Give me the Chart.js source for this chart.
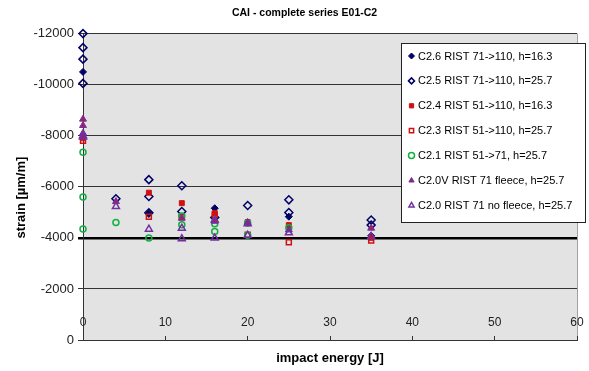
<!DOCTYPE html>
<html>
<head>
<meta charset="utf-8">
<script src="https://cdn.jsdelivr.net/npm/chart.js@4.4.1/dist/chart.umd.min.js"></script>
<style>
  html, body { margin: 0; padding: 0; background: #fff; }
</style>
</head>
<body>
<canvas id="caiChart" width="589" height="371"></canvas>
<script>
// series labels
const seriesNames = [
    'C2.6 RIST 71->110, h=16.3',
    'C2.5 RIST 71->110, h=25.7',
    'C2.4 RIST 51->110, h=16.3',
    'C2.3 RIST 51->110, h=25.7',
    'C2.1 RIST 51->71, h=25.7',
    'C2.0V RIST 71 fleece, h=25.7',
    'C2.0 RIST 71 no fleece, h=25.7'
];

// impact energy [J] / strain [µm/m], per series
const c26X = [0, 8, 16, 25, 35];
const c26Y = [-10500, -4950, -5160, -4830, -4080];

const c25X = [0, 0, 0, 0, 4, 8, 8, 8, 12, 12, 16, 20, 25, 25, 35, 35];
const c25Y = [-12000, -11450, -11000, -10050, -5530, -6280, -5620, -4980, -6040, -5030, -4800, -5270, -5490, -4990, -4700, -4500];

const c24X = [0, 8, 12, 16, 20, 25, 35];
const c24Y = [-7900, -5770, -5360, -4970, -4620, -4500, -4000];

const c23X = [0, 8, 12, 16, 20, 25, 35];
const c23Y = [-7800, -4830, -4820, -4900, -4120, -3830, -3900];

const c21X = [0, 0, 0, 4, 8, 12, 12, 16, 16, 20, 20, 25];
const c21Y = [-7350, -5600, -4350, -4600, -3990, -4860, -4510, -4550, -4250, -4580, -4100, -4400];

const c20vX = [0, 0, 0, 4, 12, 16, 20, 25, 35];
const c20vY = [-8650, -8400, -8100, -5420, -4770, -4650, -4600, -4310, -4380];

const c20X = [0, 0, 4, 8, 12, 12, 16, 16, 20, 20, 25, 35];
const c20Y = [-8000, -7950, -5230, -4340, -4380, -3970, -4700, -3990, -4550, -4100, -4200, -4050];

const navy = '#000066', red = '#d01010', green = '#10b040', purple = '#7030a0';

function pts(xs, ys) {
    return xs.map((x, i) => ({x: x, y: ys[i]}));
}

const styles = [
    {data: pts(c26X, c26Y), pointStyle: 'rectRot', backgroundColor: navy, borderColor: navy, pointRadius: 3.5, pointBorderWidth: 1},
    {data: pts(c25X, c25Y), pointStyle: 'rectRot', backgroundColor: 'rgba(0,0,0,0)', borderColor: navy, pointRadius: 4, pointBorderWidth: 1.5},
    {data: pts(c24X, c24Y), pointStyle: 'rect', backgroundColor: red, borderColor: red, pointRadius: 3.5, pointBorderWidth: 1},
    {data: pts(c23X, c23Y), pointStyle: 'rect', backgroundColor: 'rgba(0,0,0,0)', borderColor: red, pointRadius: 3.5, pointBorderWidth: 1.5},
    {data: pts(c21X, c21Y), pointStyle: 'circle', backgroundColor: 'rgba(0,0,0,0)', borderColor: green, pointRadius: 3, pointBorderWidth: 1.5},
    {data: pts(c20vX, c20vY), pointStyle: 'triangle', backgroundColor: '#a02060', borderColor: purple, pointRadius: 4, pointBorderWidth: 1},
    {data: pts(c20X, c20Y), pointStyle: 'triangle', backgroundColor: 'rgba(0,0,0,0)', borderColor: purple, pointRadius: 4, pointBorderWidth: 1.5}
];

const datasets = styles.map((s, i) => Object.assign({
    label: seriesNames[i],
    showLine: false,
    clip: false,
    order: styles.length - i
}, s));

// grey plot area
const plotBg = {
    id: 'plotBg',
    beforeDraw(chart) {
        const {ctx, chartArea: a} = chart;
        ctx.save();
        ctx.fillStyle = '#e3e3e3';
        ctx.fillRect(a.left, a.top, a.right - a.left, a.bottom - a.top);
        ctx.strokeStyle = '#a0a0a0';
        ctx.lineWidth = 1;
        ctx.beginPath();
        ctx.moveTo(a.right + 0.5, a.top);
        ctx.lineTo(a.right + 0.5, a.bottom);
        ctx.stroke();
        ctx.restore();
    }
};

// boxed legend sitting inside the plot, like the excel one
const boxLegend = {
    id: 'boxLegend',
    afterDatasetsDraw(chart) {
        const ctx = chart.ctx;
        const x0 = 401, y0 = 43, w = 184, h = 179;
        ctx.save();
        ctx.fillStyle = '#fff';
        ctx.fillRect(x0, y0, w, h);
        ctx.strokeStyle = '#222';
        ctx.lineWidth = 1;
        ctx.strokeRect(x0 + 0.5, y0 + 0.5, w, h);
        chart.data.datasets.forEach((ds, i) => {
            const y = y0 + 13 + i * 24.9;
            ctx.fillStyle = ds.backgroundColor;
            ctx.strokeStyle = ds.borderColor;
            ctx.lineWidth = ds.pointBorderWidth;
            Chart.helpers.drawPoint(ctx, {pointStyle: ds.pointStyle, radius: 3, rotation: 0, borderWidth: ds.pointBorderWidth}, 411.5, y);
            ctx.fillStyle = '#000';
            ctx.font = '11px "Liberation Sans", Arial, sans-serif';
            ctx.textAlign = 'left';
            ctx.textBaseline = 'middle';
            ctx.fillText(ds.label, 418, y + 0.5);
        });
        ctx.restore();
    }
};

const ctx = document.getElementById('caiChart').getContext('2d');
new Chart(ctx, {
    type: 'scatter',
    data: {datasets: datasets},
    plugins: [plotBg, boxLegend],
    options: {
        responsive: false,
        animation: false,
        layout: {padding: {left: 0, right: 12, top: 0, bottom: 0}},
        plugins: {
            legend: {display: false},
            tooltip: {enabled: false},
            title: {
                display: true,
                text: '           CAI - complete series E01-C2',
                color: '#000',
                font: {family: '"Liberation Sans", Arial, sans-serif', size: 10.5, weight: 'bold'},
                padding: {top: 7, bottom: 14}
            }
        },
        scales: {
            x: {
                type: 'linear',
                min: 0,
                max: 60,
                ticks: {
                    stepSize: 10,
                    mirror: true,
                    padding: 10,
                    color: '#222',
                    font: {family: '"Liberation Sans", Arial, sans-serif', size: 12}
                },
                grid: {
                    drawOnChartArea: false,
                    drawTicks: true,
                    tickLength: -4,
                    color: '#333'
                },
                border: {color: '#333', width: 1},
                title: {
                    display: true,
                    text: 'impact energy [J]',
                    color: '#000',
                    font: {family: '"Liberation Sans", Arial, sans-serif', size: 13, weight: 'bold'},
                    padding: {top: 0, bottom: 5}
                },
                afterFit: function(scale) {
                    scale.height = 31;
                    scale.paddingLeft = 0;
                    scale.paddingRight = 0;
                }
            },
            y: {
                type: 'linear',
                min: -12000,
                max: 0,
                reverse: true,
                ticks: {
                    stepSize: 2000,
                    padding: 4,
                    color: '#222',
                    font: {family: '"Liberation Sans", Arial, sans-serif', size: 13},
                    callback: v => String(v)
                },
                grid: {
                    color: c => c.tick && c.tick.value === -4000 ? '#000' : '#333',
                    lineWidth: c => c.tick && c.tick.value === -4000 ? 2.5 : 1,
                    tickLength: 5
                },
                border: {color: '#333', width: 1},
                title: {
                    display: true,
                    text: 'strain [µm/m]      ',
                    color: '#000',
                    font: {family: '"Liberation Sans", Arial, sans-serif', size: 13, weight: 'bold'},
                    padding: {top: 14, bottom: 0}
                },
                afterFit: function(scale) { scale.width = 83; }
            }
        }
    }
});
</script>
</body>
</html>
